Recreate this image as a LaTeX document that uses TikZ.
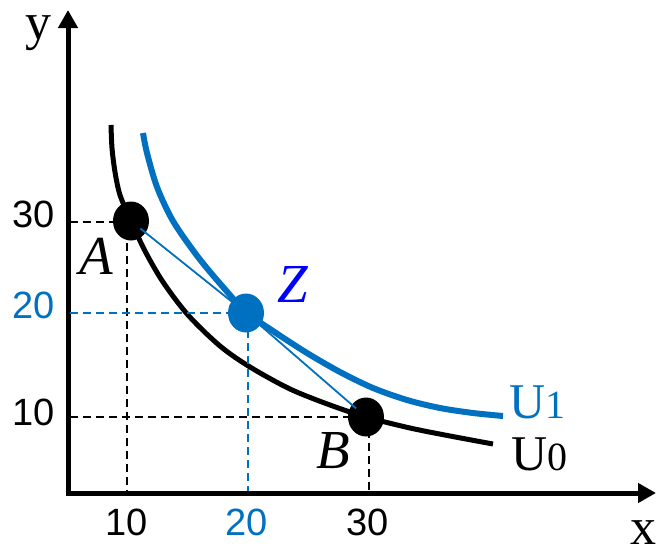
\documentclass[tikz,border=0pt]{standalone}
\usepackage{fontspec}
\setmainfont{Liberation Serif}
\newfontfamily\sansf{Liberation Sans}
\usetikzlibrary{shapes.geometric,arrows.meta}
\definecolor{ublue}{RGB}{0,112,192}
\definecolor{zblue}{RGB}{0,0,255}
\begin{document}
\begin{tikzpicture}[x=1pt,y=-1pt,
 axisline/.style={line width=5pt, -{Triangle[length=18pt,width=19pt]}},
 dot/.style={ellipse, minimum width=36pt, minimum height=39pt, inner sep=0pt},
 guide/.style={dash pattern=on 8pt off 5pt, line width=1.5pt},
 numlbl/.style={inner sep=0pt, font=\sansf\fontsize{38}{40}\selectfont},
 biglbl/.style={inner sep=0pt, anchor=base, text height=0.46em, text depth=0.2em, font=\fontsize{52}{56}\selectfont},
 itlbl/.style={inner sep=0pt, anchor=base, font=\itshape\fontsize{55}{58}\selectfont},
 ulbl/.style={inner sep=0pt, anchor=base west, font=\fontsize{50}{54}\selectfont},
]
\useasboundingbox (0,0) rectangle (657,547);
% axes
\coordinate (O) at (68,493);
\coordinate (ytip) at (68,10);
\coordinate (xtip) at (656,493);
\draw[axisline] (68,495.5) -- (ytip);
\draw[axisline] (65.5,493) -- (xtip);
% curves
\draw[line width=5pt] plot[smooth, tension=0.5] coordinates {(111,125) (112,148) (115,172) (120,195) (131,221) (145,251) (163,282) (188,315) (220,346) (250,367) (290,389) (330,405) (366,417) (410,428) (450,436) (493,444)};
\draw[ublue, line width=6pt] plot[smooth, tension=0.5] coordinates {(143,133) (147,153) (157,187) (173,221) (198,257) (223,287) (246,312) (273,331) (307,353) (340,372) (373,388) (407,400) (440,408) (473,413) (503,416)};
% guides
\coordinate (yA) at (70,222); \coordinate (xA) at (127,491);
\coordinate (yZ) at (70,313); \coordinate (xZ) at (248,491);
\coordinate (yB) at (70,417); \coordinate (xB) at (369,491);
\draw[guide] (yA) -| (xA);
\draw[guide] (yB) -| (xB);
\draw[guide, ublue] (yZ) -| (xZ);
% dots
\node[dot, fill=black] (A) at (131,221) {};
\node[dot, fill=black] (B) at (366,417) {};
\draw[ublue, line width=1.8pt, shorten <=12pt, shorten >=13pt] (A.center) -- (246,313) -- (B.center);
\node[dot, fill=ublue] (Z) at (246,313) {};
% labels
\node[biglbl] (ylab) at (39,39) {y};
\node[biglbl] (xlab) at (643,544) {x};
\node[numlbl, anchor=base east] (t30) at (55,227) {30};
\node[numlbl, anchor=base east, text=ublue] (t20) at (55,318) {20};
\node[numlbl, anchor=base east] (t10) at (55,425) {10};
\node[numlbl, anchor=base] (b10) at (127,535) {10};
\node[numlbl, anchor=base, text=ublue] (b20) at (247,535) {20};
\node[numlbl, anchor=base] (b30) at (368,535) {30};
\node[itlbl] (Alab) at (96,274) {A};
\node[itlbl] (Blab) at (333,468) {B};
\node[itlbl, text=zblue] (Zlab) at (293,302) {Z};
\node[ulbl, text=ublue] (U1) at (509,418) {U{\fontsize{40}{40}\selectfont 1}};
\node[ulbl] (U0) at (511,470) {U{\fontsize{40}{40}\selectfont 0}};
\end{tikzpicture}
\end{document}
